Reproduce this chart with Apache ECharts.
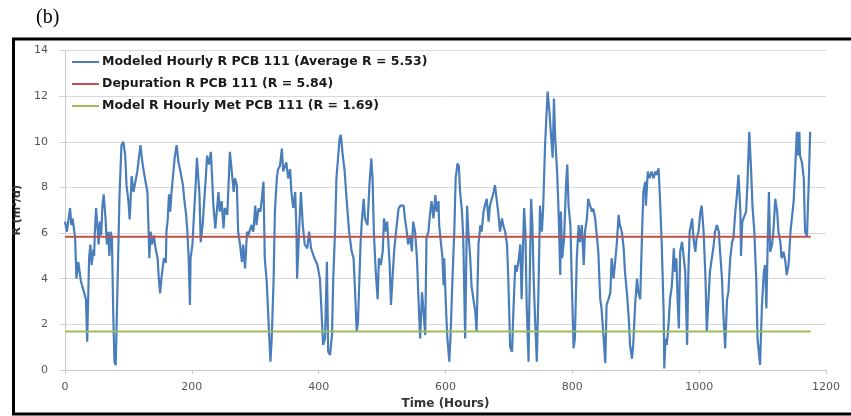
<!DOCTYPE html>
<html>
<head>
<meta charset="utf-8">
<script src="https://cdn.jsdelivr.net/npm/echarts@6/dist/echarts.min.js"></script>
<style>
  html, body { margin: 0; padding: 0; background: #ffffff; }
  #chart { width: 851px; height: 416px; }
</style>
</head>
<body>
<div id="chart"></div>
<script>
// ---- Data ----
var panelLabel = '(b)';
var xTitle = 'Time (Hours)';
var yTitle = 'R (m\u00B3/d)';
var seriesNames = [
  'Modeled Hourly R PCB 111 (Average R = 5.53)',
  'Depuration R PCB 111 (R = 5.84)',
  'Model R Hourly Met PCB 111 (R = 1.69)'
];
var xTicks = [0, 200, 400, 600, 800, 1000, 1200];
var yTicks = [0, 2, 4, 6, 8, 10, 12, 14];

// Modeled hourly R: time (hours) and R (m3/d)
var hours = [
  0, 3, 8, 10, 12, 16, 18, 21, 25, 30, 33, 35, 38, 40, 42, 45, 46, 47, 49, 51,
  53, 55, 57, 59, 61, 64, 66, 68, 70, 72, 74, 76, 78, 80, 86, 89, 92, 95, 97, 100,
  102, 104, 105, 108, 110, 114, 117, 119, 122, 126, 130, 132, 133, 135, 137, 140, 143, 146, 148, 150,
  152, 156, 159, 160, 162, 164, 166, 168, 171, 173, 176, 179, 182, 186, 188, 191, 193, 195, 197, 198,
  201, 203, 206, 208, 210, 212, 214, 217, 219, 222, 224, 227, 230, 232, 234, 237,
  242, 244, 247, 250, 252, 256, 260, 263, 266, 268, 271, 273, 276, 279, 281, 284, 287, 289, 294, 297,
  300, 302, 305, 308, 310, 313, 315, 318, 322, 324, 326, 329, 331, 334, 336, 339, 342, 344, 349, 352,
  355, 357, 360, 363, 365, 366, 370, 372, 375, 378, 382, 385, 388, 392, 398, 402, 407, 410, 413, 415,
  418, 421, 423, 426, 428, 433, 435, 438, 441, 444, 448, 452, 455, 457, 460, 462, 466,
  468, 471, 473, 477, 480, 483, 485, 487, 490, 493, 495, 498, 501, 503, 506, 508, 512, 514, 517, 519,
  522, 526, 529, 534, 536, 539, 541, 544, 547, 549, 552, 555, 557, 560, 563, 565, 568, 570, 573, 576,
  578, 581, 584, 586, 589, 590, 593, 595, 597, 598, 601, 603, 606, 608, 611, 614, 616, 619, 621, 623,
  626, 628, 631, 634, 636, 639, 641, 644, 647, 649, 652, 655, 657, 660, 662, 665, 668, 670, 673, 676,
  678, 681, 683, 686, 689, 691, 694, 697, 699, 702,
  705, 707, 710, 712, 715, 718, 720, 722, 724, 726, 728, 731, 732, 735, 737, 739, 741, 744, 747, 749,
  752, 754, 757, 761, 764, 766, 769, 771, 773, 776, 778, 781, 782, 784, 787, 790, 792, 794, 797, 799,
  802, 804, 807, 810, 812, 815, 818, 820, 823, 825, 828, 831, 833, 836, 839, 841, 844, 846, 849, 852,
  854, 857, 860, 862, 865, 868, 870, 873, 875, 878, 881, 883, 886, 889, 891, 894, 896, 899, 902, 904,
  907, 910, 912, 915, 916, 919, 922, 925, 928, 931, 933, 936, 938, 941, 944, 945,
  947, 949, 952, 954, 957, 960, 962, 964, 966, 968, 970, 973, 975, 978, 981, 983, 985, 987, 989, 991,
  994, 996, 999, 1002, 1004, 1007, 1010, 1012, 1015, 1017, 1020, 1023, 1025, 1028, 1031, 1033, 1036, 1038, 1041, 1044,
  1046, 1049, 1052, 1054, 1057, 1059, 1062, 1065, 1066, 1068, 1071, 1074, 1076, 1079, 1082, 1084, 1087, 1090, 1092, 1094,
  1096, 1099, 1102, 1104, 1106, 1108, 1110, 1112, 1115, 1117, 1120, 1123, 1125, 1128, 1130, 1133, 1136, 1138, 1141, 1144,
  1146, 1149, 1151, 1154, 1156, 1158, 1159, 1162, 1165, 1167, 1170, 1173, 1175
];
var modeledR = [
  6.5, 6.06, 7.1, 6.35, 6.64, 5.77, 4.0, 4.74, 3.9, 3.4, 3.1, 1.24, 4.9, 5.5, 4.6, 5.3, 5.0, 6.0, 7.1, 6.35,
  5.5, 6.5, 5.9, 7.2, 7.7, 6.6, 5.5, 6.06, 5.0, 6.06, 5.77, 2.55, 0.36, 0.22, 7.7, 9.85, 10.0, 9.4, 8.1, 7.4,
  6.6, 7.8, 8.5, 7.8, 8.1, 8.7, 9.4, 9.85, 9.1, 8.4, 7.8, 5.9, 4.9, 6.06, 5.5, 5.9, 5.3, 4.9, 4.0, 3.36,
  4.0, 4.9, 4.7, 6.06, 6.6, 7.7, 6.94, 7.8, 8.7, 9.3, 9.85, 9.1, 8.7, 8.1, 7.5, 6.8, 6.06, 4.9, 2.85, 4.9,
  5.5, 6.6, 8.1, 9.3, 8.5, 7.7, 5.6, 6.35, 7.2, 8.4, 9.4, 9.0, 9.56, 8.4, 7.2, 6.2,
  7.8, 6.94, 7.4, 6.2, 7.1, 6.8, 9.56, 8.7, 7.8, 8.4, 8.1, 6.06, 5.5, 4.74, 5.5, 4.45, 6.06, 5.9, 6.35, 6.06,
  7.2, 6.35, 7.07, 6.94, 7.4, 8.25, 4.9, 3.9, 1.53, 0.36, 1.38, 4.0, 6.94, 8.4, 8.8, 8.95, 9.7, 8.7, 9.1, 8.4,
  8.8, 7.8, 7.1, 7.8, 6.06, 4.0, 6.64, 7.8, 6.35, 5.5, 5.33, 6.06, 5.33, 5.0, 4.6, 4.0, 1.1, 1.38, 4.74, 0.8,
  0.66, 1.53, 4.0, 6.2, 8.4, 10.15, 10.3, 9.4, 8.7, 7.5, 6.06, 5.2, 4.9, 3.7, 1.68, 2.1, 5.5,
  6.5, 7.5, 6.64, 6.35, 8.1, 9.27, 8.4, 6.06, 4.3, 3.1, 4.9, 4.6, 5.2, 6.64, 6.06, 6.5, 4.6, 2.85, 4.3, 5.2,
  6.06, 7.07, 7.2, 7.2, 6.64, 6.06, 5.5, 5.9, 5.2, 6.5, 6.06, 4.9, 3.4, 1.38, 3.4, 2.7, 1.53, 5.77, 6.06, 6.94,
  7.4, 6.64, 7.66, 6.94, 7.4, 6.35, 5.5, 5.0, 3.7, 4.9, 2.55, 1.38, 0.36, 1.53, 4.0, 6.2, 8.4, 9.05, 8.95, 7.8,
  6.94, 5.77, 1.38, 7.2, 6.06, 4.9, 3.7, 3.1, 2.55, 1.68, 5.5, 6.35, 6.06, 6.94, 7.2, 7.5, 6.5, 7.2, 7.5, 7.8,
  8.1, 8.1, 6.94, 6.06, 6.64, 6.35, 6.06, 5.5, 4.0, 1.0,
  0.8, 2.55, 4.6, 4.3, 4.74, 5.5, 3.1, 5.18, 7.1, 6.06, 2.85, 0.36, 2.55, 7.5, 6.35, 4.0, 2.4, 0.36, 4.0, 7.2,
  6.06, 7.1, 9.85, 12.2, 11.3, 10.44, 9.3, 11.9, 10.15, 8.7, 7.2, 4.16, 6.94, 4.9, 5.77, 8.1, 9.0, 7.2, 6.35, 4.0,
  0.95, 1.38, 4.9, 6.35, 5.6, 6.35, 4.6, 6.06, 6.64, 7.5, 7.2, 6.94, 7.07, 6.64, 6.64, 5.18, 3.1, 2.7, 1.53, 0.3,
  2.85, 3.1, 3.4, 4.9, 4.0, 4.9, 5.5, 6.8, 6.35, 6.06, 5.33, 4.3, 3.4, 2.27, 1.1, 0.5, 1.1, 2.85, 4.0, 3.4,
  3.1, 6.06, 7.8, 8.25, 7.2, 8.7, 8.4, 8.7, 8.4, 8.7, 8.55, 8.84, 7.66, 5.5, 2.55, 0.07,
  1.38, 1.1, 2.12, 3.1, 3.7, 5.33, 4.3, 4.9, 3.1, 1.82, 5.18, 5.62, 5.62, 4.3, 1.1, 4.3, 6.06, 6.35, 6.64, 5.77,
  5.18, 5.77, 6.06, 6.94, 7.2, 6.06, 4.0, 1.68, 1.68, 4.3, 4.9, 5.5, 6.06, 6.35, 6.06, 5.18, 4.0, 2.55, 0.95, 3.1,
  3.4, 4.9, 5.62, 5.77, 6.94, 7.5, 8.55, 6.94, 5.0, 6.5, 6.5, 6.94, 8.1, 10.44, 8.7, 7.2, 6.06, 4.0, 1.38, 0.8,
  0.22, 2.85, 4.3, 4.6, 2.7, 5.5, 7.8, 5.18, 5.5, 6.06, 7.5, 6.94, 6.06, 5.62, 4.9, 5.18, 4.74, 4.16, 4.6, 6.06,
  6.06, 7.4, 8.55, 10.44, 9.4, 10.44, 9.4, 9.1, 8.4, 6.06, 5.84, 8.4, 10.44
];

// Constant reference lines: [start hour, end hour] and their R values
var refHours = [0, 1176];
var depurationR = 5.84;
var metR = 1.69;

// ---- Build chart ----
var modeledPairs = hours.map(function (h, i) { return [h, modeledR[i]]; });
var depurationPairs = refHours.map(function (h) { return [h, depurationR]; });
var metPairs = refHours.map(function (h) { return [h, metR]; });

var chart = echarts.init(document.getElementById('chart'), null, { renderer: 'canvas' });
var option = {
  animation: false,
  backgroundColor: '#ffffff',
  graphic: [
    {
      type: 'rect',
      shape: { x: 13.5, y: 39, width: 880, height: 375 },
      style: { fill: 'none', stroke: '#000000', lineWidth: 3 },
      z: -1
    },
    {
      type: 'text',
      left: 36,
      top: 8,
      style: {
        text: panelLabel,
        font: '20px "Liberation Serif", "DejaVu Serif", serif',
        fill: '#000000'
      }
    }
  ],
  grid: { left: 65, right: 25, top: 50.5, bottom: 46, containLabel: false },
  legend: {
    orient: 'vertical',
    left: 72,
    top: 55,
    padding: 0,
    itemWidth: 27,
    itemHeight: 2,
    itemGap: 8,
    icon: 'rect',
    data: seriesNames,
    textStyle: {
      fontFamily: 'DejaVu Sans',
      fontWeight: 'bold',
      fontSize: 12.5,
      lineHeight: 14,
      padding: [0, 0, 0, -2],
      color: '#1a1a1a'
    }
  },
  xAxis: {
    type: 'value',
    min: xTicks[0],
    max: xTicks[xTicks.length - 1],
    interval: xTicks[1] - xTicks[0],
    name: xTitle,
    nameLocation: 'middle',
    nameGap: 24,
    nameTextStyle: { fontFamily: 'DejaVu Sans', fontWeight: 'bold', fontSize: 12, color: '#333333' },
    axisLine: { lineStyle: { color: '#c8c8c8', width: 1 } },
    axisTick: { show: true, length: 4, lineStyle: { color: '#c8c8c8' } },
    axisLabel: {
      margin: 12, fontFamily: 'DejaVu Sans', fontSize: 11, color: '#555555',
      formatter: function (v) { return String(v); }
    },
    splitLine: { show: false }
  },
  yAxis: {
    type: 'value',
    min: yTicks[0],
    max: yTicks[yTicks.length - 1],
    interval: yTicks[1] - yTicks[0],
    name: yTitle,
    nameLocation: 'middle',
    nameGap: 30,
    nameTextStyle: { fontFamily: 'DejaVu Sans', fontWeight: 'bold', fontSize: 11, color: '#333333' },
    axisLine: { show: true, lineStyle: { color: '#c8c8c8', width: 1 } },
    axisTick: { show: true, length: 6, lineStyle: { color: '#d4d4d4' } },
    axisLabel: { margin: 17, fontFamily: 'DejaVu Sans', fontSize: 11, color: '#555555' },
    splitLine: { show: true, lineStyle: { color: '#d9d9d9', width: 1 } }
  },
  series: [
    {
      name: seriesNames[0],
      type: 'line',
      data: modeledPairs,
      showSymbol: false,
      symbol: 'none',
      lineStyle: { color: '#4a7ebb', width: 2.2 },
      itemStyle: { color: '#4a7ebb' },
      z: 3
    },
    {
      name: seriesNames[1],
      type: 'line',
      data: depurationPairs,
      showSymbol: false,
      symbol: 'none',
      lineStyle: { color: '#c0504d', width: 2 },
      itemStyle: { color: '#c0504d' },
      z: 4
    },
    {
      name: seriesNames[2],
      type: 'line',
      data: metPairs,
      showSymbol: false,
      symbol: 'none',
      lineStyle: { color: '#9bbb59', width: 2 },
      itemStyle: { color: '#9bbb59' },
      z: 4
    }
  ]
};
chart.setOption(option);
</script>
</body>
</html>
